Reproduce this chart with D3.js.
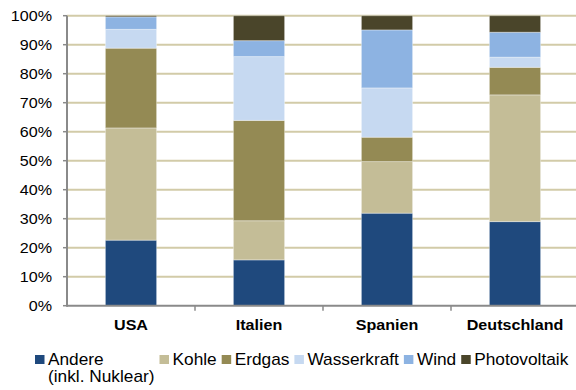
<!DOCTYPE html>
<html>
<head>
<meta charset="utf-8">
<script src="https://cdn.jsdelivr.net/npm/d3@7"></script>
<style>
html,body{margin:0;padding:0;background:#fff;}
svg{display:block;}
text{font-family:"Liberation Sans",Arial,sans-serif;fill:#000;}
</style>
</head>
<body>
<svg id="chart" width="576" height="390"></svg>
<script>
const categories = ["USA", "Italien", "Spanien", "Deutschland"];
const seriesNames = ["Andere\n(inkl. Nuklear)", "Kohle", "Erdgas", "Wasserkraft", "Wind", "Photovoltaik"];
const andere       = [22.6, 15.8, 31.9, 29.0];
const kohle        = [38.7, 13.5, 17.8, 43.7];
const erdgas       = [27.5, 34.6,  8.4,  9.5];
const wasserkraft  = [ 6.5, 22.0, 17.0,  3.5];
const wind         = [ 4.3,  5.5, 20.0,  8.6];
const photovoltaik = [ 0.4,  8.6,  4.9,  5.7];
const yTicks = [0, 10, 20, 30, 40, 50, 60, 70, 80, 90, 100];
const colors = ["#1F497D", "#C4BD97", "#948A54", "#C6D9F1", "#8DB3E2", "#4A452A"];

(function () {
const seriesValues = [andere, kohle, erdgas, wasserkraft, wind, photovoltaik];
const keys = seriesNames.map((d, i) => "s" + i);
const table = categories.map((c, ci) => {
  const row = {cat: c};
  keys.forEach((k, si) => row[k] = seriesValues[si][ci]);
  return row;
});

const SX = 1.15; // horizontal text stretch
const svg = d3.select("#chart");
const pLeft = 67, pRight = 579, pTop = 15.7, pBottom = 305.7;

const x = d3.scaleBand().domain(categories).range([pLeft, pRight]).paddingInner(0.6).paddingOuter(0.3);
const y = d3.scaleLinear().domain([0, 100]).range([pBottom, pTop]);
const color = d3.scaleOrdinal().domain(keys).range(colors);

// gridlines
svg.append("g").selectAll("line").data(yTicks.filter(d => d > 0)).join("line")
  .attr("x1", pLeft).attr("x2", 576)
  .attr("y1", d => y(d)).attr("y2", d => y(d))
  .attr("stroke", "#D2CBA8").attr("stroke-width", 2);

// stacked bars
const stacked = d3.stack().keys(keys)(table);
svg.append("g").selectAll("g").data(stacked).join("g")
  .attr("fill", d => color(d.key))
  .selectAll("rect").data(d => d).join("rect")
  .attr("x", d => x(d.data.cat))
  .attr("width", x.bandwidth())
  .attr("y", d => y(d[1]))
  .attr("height", d => y(d[0]) - y(d[1]))
  .attr("stroke", "rgba(255,255,255,0.35)").attr("stroke-width", 1);

// y axis
svg.append("line").attr("x1", pLeft).attr("x2", pLeft).attr("y1", pTop).attr("y2", pBottom + 1)
  .attr("stroke", "#8A8A8A").attr("stroke-width", 2);
svg.append("g").selectAll("line").data(yTicks).join("line")
  .attr("x1", pLeft - 4).attr("x2", pLeft).attr("y1", d => y(d)).attr("y2", d => y(d))
  .attr("stroke", "#8A8A8A").attr("stroke-width", 1.5);
svg.append("g").selectAll("text").data(yTicks).join("text")
  .attr("transform", d => `translate(52,${y(d) + 5}) scale(${SX},1)`)
  .attr("text-anchor", "end").style("font-size", "14px")
  .text(d => d + "%");

// x axis
svg.append("line").attr("x1", pLeft).attr("x2", 576).attr("y1", pBottom).attr("y2", pBottom)
  .attr("stroke", "#8A8A8A").attr("stroke-width", 2);
const gap = (x.step() - x.bandwidth()) / 2;
svg.append("g").selectAll("line").data(categories.slice(1)).join("line")
  .attr("x1", d => x(d) - gap).attr("x2", d => x(d) - gap)
  .attr("y1", pBottom).attr("y2", pBottom + 5)
  .attr("stroke", "#8A8A8A").attr("stroke-width", 1.5);
svg.append("g").selectAll("text").data(categories).join("text")
  .attr("transform", d => `translate(${x(d) + x.bandwidth() / 2},330) scale(${SX},1)`)
  .attr("text-anchor", "middle").style("font-size", "14px").style("font-weight", "bold")
  .text(d => d);

// legend
const LSX = 1.08;
const leg = svg.append("g");
let lx = 35;
seriesNames.forEach((name, i) => {
  const g = leg.append("g");
  g.append("rect").attr("x", lx).attr("y", 355).attr("width", 9.5).attr("height", 9).attr("fill", colors[i]);
  const lines = name.split("\n");
  let maxW = 0;
  lines.forEach((ln, li) => {
    const t = g.append("text")
      .attr("transform", `translate(${lx + 13},${364.5 + li * 17.5}) scale(${LSX},1)`)
      .style("font-size", "16px").text(ln);
    maxW = Math.max(maxW, t.node().getComputedTextLength() * LSX);
  });
  lx = lx + 13 + maxW + 5;
});
})();
</script>
</body>
</html>
